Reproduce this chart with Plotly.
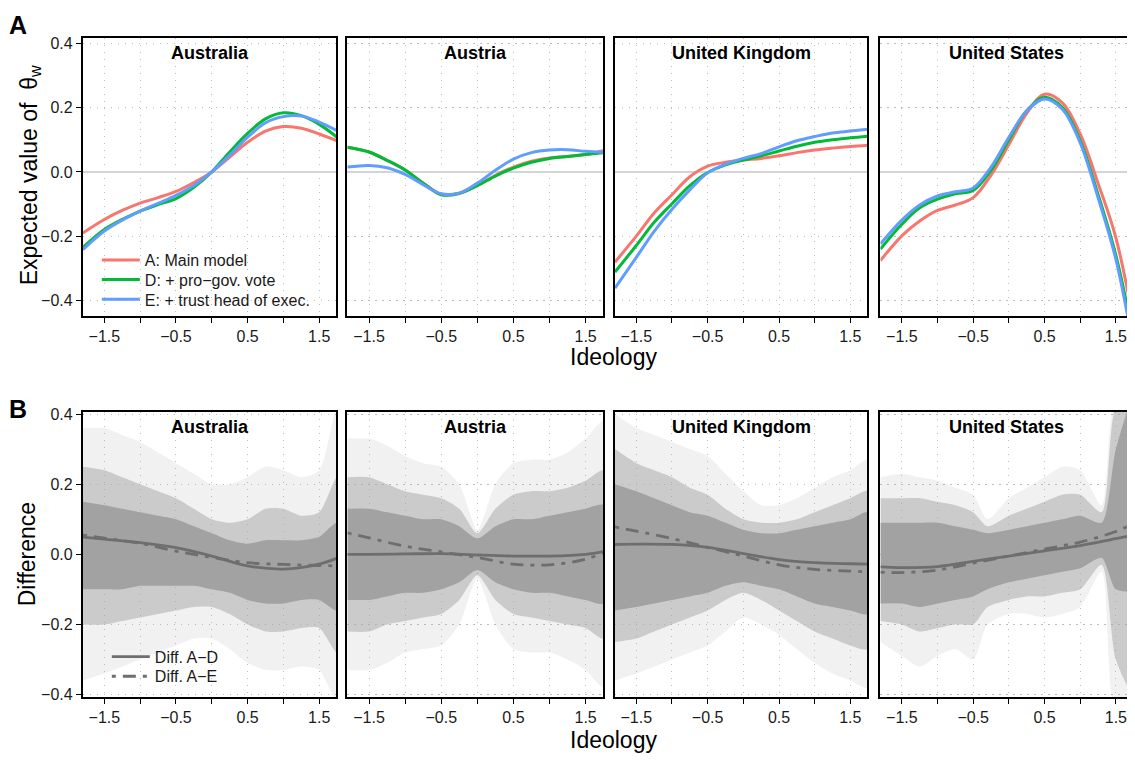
import plotly.graph_objects as go

W, H = 1135, 765
OFF = 8  # page body margin in the browser
W_FIG, H_FIG = W - OFF, H - OFF

COUNTRIES = ["Australia", "Austria", "United Kingdom", "United States"]

# ---------------- Panel A: expected value of theta_w ----------------
X_TOP = [-1.8, -1.5, -1.25, -1, -0.75, -0.5, -0.25, 0, 0.25, 0.5, 0.75, 1, 1.25, 1.5, 1.75]

AUS_A = [-0.190, -0.148, -0.120, -0.097, -0.080, -0.061, -0.033, 0.000, 0.046, 0.092, 0.127, 0.141, 0.136, 0.118, 0.097]
AUS_D = [-0.235, -0.179, -0.148, -0.122, -0.102, -0.083, -0.048, 0.000, 0.062, 0.120, 0.165, 0.184, 0.175, 0.148, 0.108]
AUS_E = [-0.242, -0.184, -0.150, -0.122, -0.098, -0.073, -0.042, 0.000, 0.052, 0.108, 0.153, 0.172, 0.174, 0.155, 0.128]

AUT_A = [0.077, 0.062, 0.036, 0.006, -0.035, -0.070, -0.066, -0.042, -0.011, 0.015, 0.033, 0.043, 0.048, 0.054, 0.066]
AUT_D = [0.077, 0.062, 0.036, 0.006, -0.035, -0.071, -0.067, -0.043, -0.013, 0.012, 0.030, 0.042, 0.048, 0.054, 0.060]
AUT_E = [0.015, 0.020, 0.013, -0.008, -0.040, -0.068, -0.066, -0.035, 0.005, 0.040, 0.060, 0.068, 0.069, 0.064, 0.061]

GBR_A = [-0.281, -0.200, -0.128, -0.071, -0.015, 0.018, 0.030, 0.037, 0.042, 0.050, 0.060, 0.068, 0.074, 0.079, 0.083]
GBR_D = [-0.312, -0.229, -0.157, -0.099, -0.043, -0.002, 0.022, 0.037, 0.050, 0.065, 0.080, 0.092, 0.100, 0.106, 0.111]
GBR_E = [-0.362, -0.266, -0.185, -0.116, -0.056, -0.003, 0.024, 0.042, 0.057, 0.078, 0.097, 0.110, 0.121, 0.127, 0.133]

USA_A = [-0.276, -0.199, -0.153, -0.120, -0.103, -0.080, -0.010, 0.085, 0.182, 0.242, 0.215, 0.118, -0.035, -0.205, -0.470]
USA_D = [-0.240, -0.163, -0.112, -0.085, -0.068, -0.058, 0.005, 0.100, 0.190, 0.232, 0.200, 0.097, -0.070, -0.260, -0.520]
USA_E = [-0.224, -0.150, -0.103, -0.075, -0.062, -0.050, 0.015, 0.108, 0.190, 0.227, 0.195, 0.090, -0.080, -0.272, -0.550]

TOP_SERIES = {
    "Australia": (AUS_A, AUS_D, AUS_E),
    "Austria": (AUT_A, AUT_D, AUT_E),
    "United Kingdom": (GBR_A, GBR_D, GBR_E),
    "United States": (USA_A, USA_D, USA_E),
}
MODEL_NAMES = ["A: Main model", "D: + pro\u2212gov. vote", "E: + trust head of exec."]
MODEL_COLORS = ["#F8766D", "#00BA38", "#619CFF"]

# ---------------- Panel B: differences ----------------
X_DIFF = [-1.8, -1.5, -1, -0.5, 0, 0.5, 1, 1.5, 1.75]
AUS_AD = [0.049, 0.043, 0.033, 0.019, -0.005, -0.033, -0.042, -0.028, -0.011]
AUS_AE = [0.055, 0.046, 0.031, 0.009, -0.009, -0.024, -0.029, -0.032, -0.033]
AUT_AD = [0.000, 0.000, 0.001, 0.002, -0.002, -0.005, -0.005, 0.000, 0.008]
AUT_AE = [0.061, 0.047, 0.023, 0.007, -0.009, -0.028, -0.030, -0.014, 0.005]
GBR_AD = [0.028, 0.029, 0.028, 0.020, 0.002, -0.015, -0.024, -0.027, -0.028]
GBR_AE = [0.078, 0.066, 0.045, 0.020, -0.005, -0.030, -0.043, -0.048, -0.050]
USA_AD = [-0.036, -0.038, -0.035, -0.020, -0.005, 0.010, 0.025, 0.045, 0.055]
USA_AE = [-0.051, -0.052, -0.045, -0.025, -0.005, 0.015, 0.035, 0.065, 0.088]
DIFF_SERIES = {
    "Australia": (AUS_AD, AUS_AE),
    "Austria": (AUT_AD, AUT_AE),
    "United Kingdom": (GBR_AD, GBR_AE),
    "United States": (USA_AD, USA_AE),
}
DIFF_NAMES = ["Diff. A\u2212D", "Diff. A\u2212E"]

# simulation-draw envelopes (outer faint, middle, dense core)
BAND_X = [-1.8, -1.5, -1.25, -1, -0.75, -0.5, -0.25, 0, 0.25, 0.5, 0.75, 1, 1.25, 1.5, 1.75]
USA_BAND_X = [-1.8, -1.5, -1.25, -1, -0.75, -0.5, -0.3, 0, 0.25, 0.5, 0.75, 1, 1.3, 1.5, 1.75]

AUS_OUT_HI = [0.36, 0.36, 0.34, 0.32, 0.29, 0.26, 0.23, 0.20, 0.20, 0.22, 0.25, 0.24, 0.22, 0.24, 0.42]
AUS_OUT_LO = [-0.36, -0.34, -0.32, -0.30, -0.28, -0.26, -0.24, -0.24, -0.27, -0.31, -0.33, -0.33, -0.32, -0.33, -0.42]
AUS_MID_HI = [0.25, 0.24, 0.22, 0.20, 0.18, 0.16, 0.13, 0.10, 0.09, 0.10, 0.13, 0.13, 0.11, 0.12, 0.22]
AUS_MID_LO = [-0.20, -0.20, -0.19, -0.18, -0.17, -0.16, -0.15, -0.15, -0.17, -0.20, -0.22, -0.22, -0.21, -0.21, -0.28]
AUS_CORE_HI = [0.15, 0.14, 0.13, 0.12, 0.11, 0.10, 0.08, 0.06, 0.04, 0.03, 0.04, 0.04, 0.04, 0.05, 0.09]
AUS_CORE_LO = [-0.10, -0.10, -0.10, -0.09, -0.09, -0.09, -0.09, -0.10, -0.11, -0.13, -0.14, -0.14, -0.13, -0.13, -0.16]

AUT_OUT_HI = [0.33, 0.33, 0.31, 0.28, 0.26, 0.25, 0.20, 0.07, 0.20, 0.26, 0.27, 0.27, 0.29, 0.33, 0.38]
AUT_OUT_LO = [-0.33, -0.33, -0.31, -0.28, -0.27, -0.26, -0.20, -0.07, -0.20, -0.27, -0.28, -0.28, -0.30, -0.33, -0.38]
AUT_MID_HI = [0.22, 0.22, 0.20, 0.18, 0.17, 0.16, 0.13, 0.06, 0.13, 0.17, 0.18, 0.18, 0.19, 0.21, 0.24]
AUT_MID_LO = [-0.22, -0.22, -0.20, -0.19, -0.18, -0.17, -0.13, -0.06, -0.13, -0.17, -0.18, -0.19, -0.20, -0.21, -0.24]
AUT_CORE_HI = [0.13, 0.13, 0.12, 0.11, 0.10, 0.10, 0.08, 0.045, 0.08, 0.10, 0.10, 0.11, 0.12, 0.13, 0.14]
AUT_CORE_LO = [-0.13, -0.13, -0.12, -0.11, -0.11, -0.10, -0.08, -0.045, -0.08, -0.10, -0.11, -0.11, -0.12, -0.13, -0.14]

GBR_OUT_HI = [0.40, 0.36, 0.34, 0.32, 0.30, 0.28, 0.23, 0.18, 0.14, 0.14, 0.16, 0.19, 0.22, 0.24, 0.27]
GBR_OUT_LO = [-0.36, -0.34, -0.32, -0.30, -0.28, -0.26, -0.22, -0.18, -0.20, -0.23, -0.27, -0.31, -0.34, -0.36, -0.38]
GBR_MID_HI = [0.30, 0.26, 0.24, 0.22, 0.19, 0.17, 0.13, 0.10, 0.09, 0.09, 0.10, 0.12, 0.14, 0.16, 0.18]
GBR_MID_LO = [-0.25, -0.24, -0.22, -0.20, -0.18, -0.16, -0.13, -0.11, -0.13, -0.16, -0.19, -0.22, -0.24, -0.26, -0.27]
GBR_CORE_HI = [0.20, 0.18, 0.16, 0.14, 0.12, 0.11, 0.09, 0.07, 0.06, 0.06, 0.07, 0.08, 0.09, 0.10, 0.12]
GBR_CORE_LO = [-0.16, -0.15, -0.14, -0.13, -0.12, -0.11, -0.09, -0.08, -0.09, -0.10, -0.12, -0.14, -0.15, -0.16, -0.17]

USA_OUT_HI = [0.22, 0.23, 0.22, 0.21, 0.19, 0.17, 0.10, 0.16, 0.19, 0.22, 0.25, 0.24, 0.14, 0.45, 0.45]
USA_OUT_LO = [-0.25, -0.29, -0.32, -0.29, -0.27, -0.30, -0.20, -0.17, -0.17, -0.18, -0.17, -0.15, -0.05, -0.45, -0.45]
USA_MID_HI = [0.16, 0.16, 0.16, 0.15, 0.14, 0.12, 0.08, 0.11, 0.13, 0.15, 0.17, 0.17, 0.12, 0.42, 0.45]
USA_MID_LO = [-0.19, -0.20, -0.22, -0.21, -0.20, -0.20, -0.15, -0.13, -0.12, -0.12, -0.11, -0.10, -0.03, -0.30, -0.40]
USA_CORE_HI = [0.09, 0.09, 0.09, 0.09, 0.08, 0.07, 0.06, 0.07, 0.08, 0.09, 0.10, 0.11, 0.09, 0.30, 0.45]
USA_CORE_LO = [-0.14, -0.14, -0.15, -0.14, -0.13, -0.12, -0.10, -0.08, -0.07, -0.06, -0.05, -0.04, -0.01, -0.10, -0.10]

BANDS = {
    "Australia": (BAND_X, [(AUS_OUT_HI, AUS_OUT_LO), (AUS_MID_HI, AUS_MID_LO), (AUS_CORE_HI, AUS_CORE_LO)]),
    "Austria": (BAND_X, [(AUT_OUT_HI, AUT_OUT_LO), (AUT_MID_HI, AUT_MID_LO), (AUT_CORE_HI, AUT_CORE_LO)]),
    "United Kingdom": (BAND_X, [(GBR_OUT_HI, GBR_OUT_LO), (GBR_MID_HI, GBR_MID_LO), (GBR_CORE_HI, GBR_CORE_LO)]),
    "United States": (USA_BAND_X, [(USA_OUT_HI, USA_OUT_LO), (USA_MID_HI, USA_MID_LO), (USA_CORE_HI, USA_CORE_LO)]),
}
BAND_COLORS = ["rgba(165,165,165,0.16)", "rgba(165,165,165,0.5)", "rgb(162,162,162)"]

X_MAJOR = [-1.5, -0.5, 0.5, 1.5]
X_MAJOR_TEXT = ["\u22121.5", "\u22120.5", "0.5", "1.5"]
X_MINOR = [-1, 0, 1]
Y_TICKS = [-0.4, -0.2, 0, 0.2, 0.4]
Y_TICKTEXT = ["\u22120.4", "\u22120.2", "0.0", "0.2", "0.4"]

# ---------------- layout geometry (reference pixels) ----------------
PANEL_X = [(83, 337), (348, 604), (616, 869), (882, 1135)]
ROW_Y = [(32, 315), (412, 702)]
X_RANGE = [-1.80, 1.74]
Y_RANGE_TOP = [-0.449, 0.418]
Y_RANGE_BOT = [-0.407, 0.407]
TOP_LEGEND_ROWS = [258, 278, 298]
BOT_LEGEND_ROWS = [661, 681]

FONT = "Liberation Sans, Arial, Helvetica, sans-serif"
GRID = dict(showgrid=True, gridcolor="#bdbdbd", griddash="1.5px,5.5px", gridwidth=1)


def fx(p):
    return (p - OFF) / W_FIG


def fy(p):
    return 1 - (p - OFF) / H_FIG


fig = go.Figure()
layout = {}

for row in range(2):
    for col in range(4):
        idx = row * 4 + col + 1
        xa = "xaxis" if idx == 1 else f"xaxis{idx}"
        ya = "yaxis" if idx == 1 else f"yaxis{idx}"
        x0, x1 = PANEL_X[col]
        y0, y1 = ROW_Y[row]
        layout[xa] = dict(
            domain=[fx(x0), min(fx(x1), 1.0)], range=X_RANGE, anchor=f"y{idx}",
            tickvals=X_MAJOR, ticktext=X_MAJOR_TEXT, ticks="outside", ticklen=5,
            tickwidth=1.3, tickcolor="black", showline=True, mirror=True,
            linecolor="black", linewidth=2, zeroline=False,
            minor=dict(tickvals=X_MINOR, ticks="outside", ticklen=5, tickwidth=1.3,
                       tickcolor="black", **GRID),
            tickfont=dict(family=FONT, size=16, color="#1a1a1a"), **GRID,
        )
        layout[ya] = dict(
            domain=[fy(y1), fy(y0)], range=Y_RANGE_TOP if row == 0 else Y_RANGE_BOT,
            anchor=f"x{idx}", tickvals=Y_TICKS, ticktext=Y_TICKTEXT,
            ticks="outside" if col == 0 else "", ticklen=5, tickwidth=1.3,
            tickcolor="black", showticklabels=(col == 0), showline=True, mirror=True,
            linecolor="black", linewidth=2,
            zeroline=(row == 0), zerolinecolor="#d4d4d4", zerolinewidth=2,
            tickfont=dict(family=FONT, size=16, color="#1a1a1a"), **GRID,
        )

# one legend box per entry so rows can sit exactly where the reference has them
TOP_LEGENDS = ["legend", "legend2", "legend3"]
BOT_LEGENDS = ["legend4", "legend5"]

# Row A traces
for col, country in enumerate(COUNTRIES):
    idx = col + 1
    for k, series in enumerate(TOP_SERIES[country]):
        fig.add_trace(go.Scatter(
            x=X_TOP, y=series, mode="lines", name=MODEL_NAMES[k],
            line=dict(color=MODEL_COLORS[k], width=3, shape="spline"),
            xaxis=f"x{idx}", yaxis=f"y{idx}", showlegend=(col == 0),
            legend=TOP_LEGENDS[k],
        ))

# Row B traces
for col, country in enumerate(COUNTRIES):
    idx = col + 5
    bx, layers = BANDS[country]
    for (hi, lo), colr in zip(layers, BAND_COLORS):
        fig.add_trace(go.Scatter(
            x=list(bx) + list(bx)[::-1], y=list(hi) + list(lo)[::-1],
            mode="lines", fill="toself", fillcolor=colr,
            line=dict(width=0, shape="spline", smoothing=0.7),
            hoverinfo="skip", showlegend=False, xaxis=f"x{idx}", yaxis=f"y{idx}",
        ))
    ad, ae = DIFF_SERIES[country]
    fig.add_trace(go.Scatter(
        x=X_DIFF, y=ad, mode="lines", name=DIFF_NAMES[0],
        line=dict(color="#6e6e6e", width=2.8, shape="spline"),
        xaxis=f"x{idx}", yaxis=f"y{idx}", showlegend=(col == 0), legend=BOT_LEGENDS[0],
    ))
    fig.add_trace(go.Scatter(
        x=X_DIFF, y=ae, mode="lines", name=DIFF_NAMES[1],
        line=dict(color="#6e6e6e", width=2.8, shape="spline", dash="4px,7px,13px,7px"),
        xaxis=f"x{idx}", yaxis=f"y{idx}", showlegend=(col == 0), legend=BOT_LEGENDS[1],
    ))

annotations = []


def note(xp, yp, text, size, angle=0):
    annotations.append(dict(
        x=fx(xp), y=fy(yp), xref="paper", yref="paper", text=text,
        xanchor="center", yanchor="middle", showarrow=False, textangle=angle,
        font=dict(family=FONT, size=size, color="black"),
    ))


for ypix in [48, 428]:
    for col, country in enumerate(COUNTRIES):
        x0, x1 = PANEL_X[col]
        note((x0 + x1) / 2, ypix, f"<b>{country}</b>", 18)

for ypix in [357, 746]:
    note(615, ypix, "Ideology", 23)

note(30, 172, "Expected value of  \u03b8<sub>w</sub>", 23, -90)
note(27, 557, "Difference", 23, -90)
note(18, 19, "<b>A</b>", 25)
note(18, 409, "<b>B</b>", 25)


def legend_box(xpix, ypix):
    return dict(
        x=fx(xpix), y=fy(ypix), xanchor="left", yanchor="middle",
        bgcolor="rgba(0,0,0,0)", borderwidth=0,
        font=dict(family=FONT, size=16, color="#1a1a1a"),
        tracegroupgap=0, itemwidth=38,
    )


legend_layout = {}
for name, ypix in zip(TOP_LEGENDS, TOP_LEGEND_ROWS):
    legend_layout[name] = legend_box(97, ypix)
for name, ypix in zip(BOT_LEGENDS, BOT_LEGEND_ROWS):
    legend_layout[name] = legend_box(107, ypix)

fig.update_layout(
    width=W_FIG, height=H_FIG, margin=dict(l=0, r=0, t=0, b=0),
    paper_bgcolor="white", plot_bgcolor="white",
    font=dict(family=FONT, color="black"),
    annotations=annotations,
    **legend_layout,
    **layout,
)

fig.write_html("out.html")
